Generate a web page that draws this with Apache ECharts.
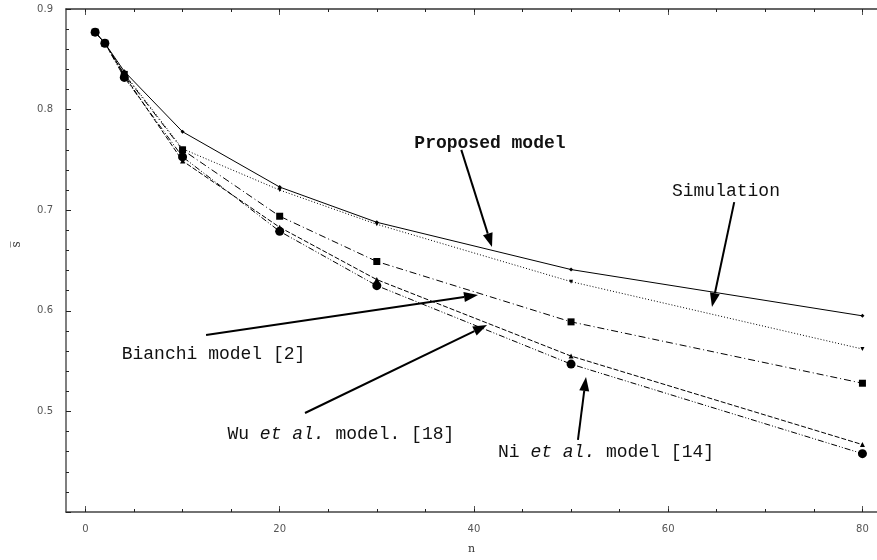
<!DOCTYPE html>
<html><head><meta charset="utf-8">
<script src="https://cdn.jsdelivr.net/npm/echarts@6/dist/echarts.min.js"></script>
<style>html,body{margin:0;padding:0;background:#fff}#c{width:877px;height:560px}</style>
</head><body><div id="c"></div>
<script>
// ---- data ----
const nValues    = [1, 2, 4, 10, 20, 30, 50, 80];
const proposed   = [0.877, 0.866, 0.838, 0.778, 0.723, 0.688, 0.641, 0.595];
const simulation = [0.877, 0.866, 0.836, 0.761, 0.720, 0.686, 0.629, 0.562];
const bianchi    = [0.877, 0.866, 0.835, 0.760, 0.694, 0.649, 0.589, 0.528];
const wu         = [0.877, 0.866, 0.834, 0.749, 0.683, 0.631, 0.555, 0.467];
const ni         = [0.877, 0.866, 0.832, 0.753, 0.679, 0.625, 0.547, 0.458];
const xMajorTicks = [0, 20, 40, 60, 80];
const xMinorTicks = [0, 5, 10, 15, 20, 25, 30, 35, 40, 45, 50, 55, 60, 65, 70, 75, 80];
const yTickLabels = [0.5, 0.6, 0.7, 0.8, 0.9];
const xAxisName = 'n';
const yAxisName = 's\u0305';

// annotations (data coordinates)
const annotationTexts   = ['Proposed model', 'Simulation', 'Bianchi model [2]', 'Wu {i|et al.} model. [18]', 'Ni {i|et al.} model [14]'];
const annotationCenters = [[41.65, 0.7668], [65.95, 0.7191], [13.19, 0.557], [26.3, 0.4775], [53.6, 0.4596]];
const arrowStarts = [[38.7, 0.760], [66.8, 0.708], [12.42, 0.576], [22.61, 0.4984], [50.71, 0.4716]];
const arrowTips   = [[41.86, 0.6634], [64.51, 0.6038], [40.42, 0.6157], [41.35, 0.5859], [51.54, 0.5342]];
const yNameAnchor = [-7.1, 0.666];

const toPairs = (ys) => nValues.map((n, i) => [n, ys[i]]);

const chart = echarts.init(document.getElementById('c'), null, {renderer: 'canvas'});
const labelFont = {color: '#555', fontSize: 10, fontFamily: 'DejaVu Sans'};
const xBase = {type: 'value', min: -2, max: 81.5, splitLine: {show: false}};

chart.setOption({
  animation: false,
  backgroundColor: '#fff',
  grid: {left: 66, top: 9, right: 0, bottom: 48, containLabel: false},
  xAxis: [
    Object.assign({}, xBase, {
      position: 'bottom', name: xAxisName, nameLocation: 'middle', nameGap: 32,
      nameTextStyle: {color: '#333', fontSize: 11, fontFamily: 'DejaVu Serif'},
      axisLine: {show: true, onZero: false, lineStyle: {color: '#444', width: 1.5}},
      axisTick: {show: true, inside: true, length: 6, customValues: xMajorTicks, lineStyle: {color: '#555'}},
      axisLabel: Object.assign({customValues: xMajorTicks, margin: 12}, labelFont)
    }),
    Object.assign({}, xBase, {
      position: 'bottom',
      axisLine: {show: false, onZero: false},
      axisTick: {show: true, inside: true, length: 3, customValues: xMinorTicks, lineStyle: {color: '#222'}},
      axisLabel: {show: false}
    }),
    Object.assign({}, xBase, {
      position: 'top',
      axisLine: {show: true, onZero: false, lineStyle: {color: '#333', width: 1.5}},
      axisTick: {show: true, inside: true, length: 6, customValues: xMajorTicks, lineStyle: {color: '#555'}},
      axisLabel: {show: false}
    }),
    Object.assign({}, xBase, {
      position: 'top',
      axisLine: {show: false, onZero: false},
      axisTick: {show: true, inside: true, length: 3, customValues: xMinorTicks, lineStyle: {color: '#222'}},
      axisLabel: {show: false}
    })
  ],
  yAxis: [{
    type: 'value', min: 0.4, max: 0.9, interval: 0.1,
    axisLine: {show: true, onZero: false, lineStyle: {color: '#555', width: 1.5}},
    axisTick: {show: true, inside: true, length: 5, lineStyle: {color: '#222'}},
    minorTick: {show: true, splitNumber: 5, length: 3, lineStyle: {color: '#222'}},
    splitLine: {show: false},
    axisLabel: Object.assign({customValues: yTickLabels, margin: 13, formatter: v => v.toFixed(1)}, labelFont)
  }],
  series: [
    {name: 'Proposed model', type: 'line', data: toPairs(proposed), symbol: 'diamond', symbolSize: 4,
     lineStyle: {color: '#000', width: 1, type: 'solid'}, itemStyle: {color: '#000'}},
    {name: 'Simulation', type: 'line', data: toPairs(simulation), symbol: 'triangle', symbolRotate: 180, symbolSize: 4,
     lineStyle: {color: '#000', width: 1, type: [1, 2]}, itemStyle: {color: '#000'}},
    {name: 'Bianchi model [2]', type: 'line', data: toPairs(bianchi), symbol: 'rect', symbolSize: 7,
     lineStyle: {color: '#000', width: 1, type: [7, 3, 1, 3]}, itemStyle: {color: '#000'}},
    {name: 'Wu et al. model [18]', type: 'line', data: toPairs(wu), symbol: 'triangle', symbolSize: 5,
     lineStyle: {color: '#000', width: 1, type: [5, 2]}, itemStyle: {color: '#000'}},
    {name: 'Ni et al. model [14]', type: 'line', data: toPairs(ni), symbol: 'circle', symbolSize: 9,
     lineStyle: {color: '#000', width: 1, type: [6, 2, 1, 2, 1, 2]}, itemStyle: {color: '#000'}}
  ]
});

// annotations: arrows + text + y-axis title
const px = (p) => chart.convertToPixel({xAxisIndex: 0, yAxisIndex: 0}, p);
const graphics = [];
arrowStarts.forEach((s, i) => {
  const a = px(s), b = px(arrowTips[i]);
  const dx = b[0] - a[0], dy = b[1] - a[1], L = Math.hypot(dx, dy);
  const ux = dx / L, uy = dy / L, head = 14, hw = 5;
  const base = [b[0] - ux * head, b[1] - uy * head];
  graphics.push({type: 'line', shape: {x1: a[0], y1: a[1], x2: base[0], y2: base[1]},
    style: {stroke: '#000', lineWidth: 2}, z: 100});
  graphics.push({type: 'polygon', shape: {points: [b, [base[0] - uy * hw, base[1] + ux * hw], [base[0] + uy * hw, base[1] - ux * hw]]},
    style: {fill: '#000'}, z: 100});
});
annotationTexts.forEach((t, i) => {
  const c = px(annotationCenters[i]);
  graphics.push({type: 'text', x: c[0], y: c[1], z: 101,
    style: {text: t, fill: '#111', font: (i === 0 ? 'bold ' : '') + '18px "Liberation Mono", monospace',
      align: 'center', verticalAlign: 'middle',
      rich: {i: {fontStyle: 'italic', fontFamily: 'Liberation Mono', fontSize: 18, fill: '#111'}}}});
});
const yn = px(yNameAnchor);
graphics.push({type: 'text', x: yn[0], y: yn[1], rotation: Math.PI / 2, z: 101,
  style: {text: yAxisName, fill: '#333', font: '12px "DejaVu Serif", serif', align: 'center', verticalAlign: 'middle'}});
chart.setOption({graphic: graphics});
</script>
</body></html>
